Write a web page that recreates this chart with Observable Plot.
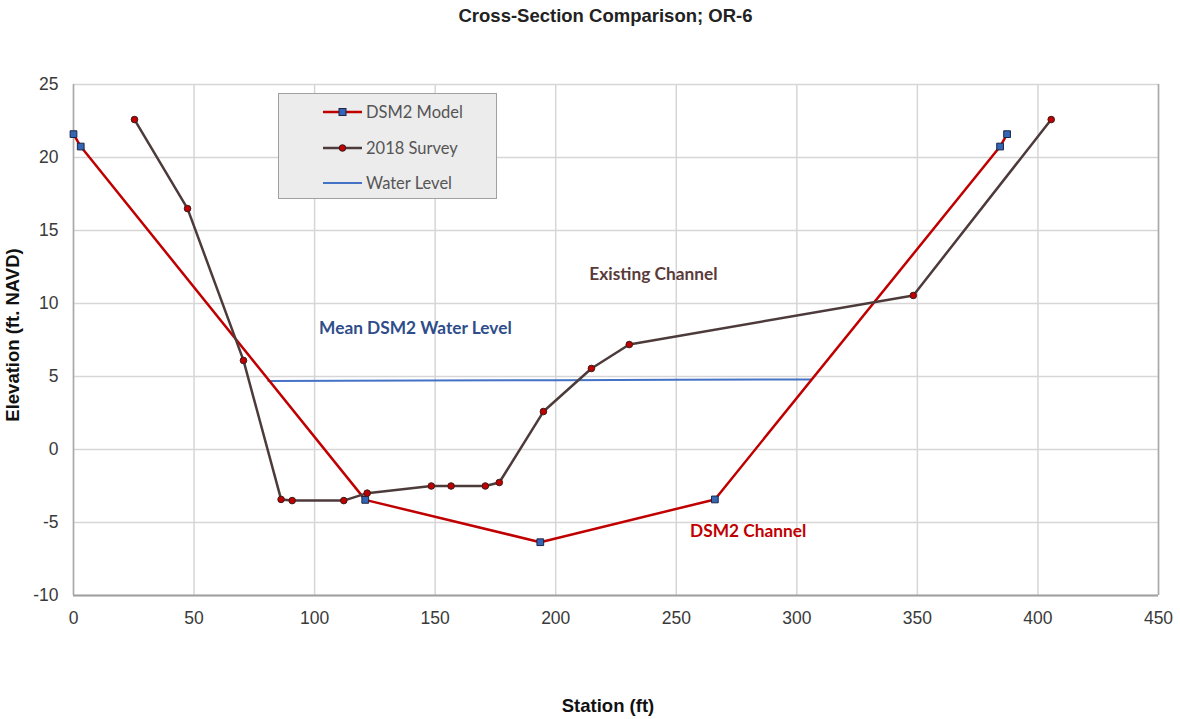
<!DOCTYPE html>
<html>
<head>
<meta charset="utf-8">
<script src="https://cdn.jsdelivr.net/npm/d3@7"></script>
<script src="https://cdn.jsdelivr.net/npm/@observablehq/plot@0.6"></script>
<style>
  html, body { margin: 0; padding: 0; background: #fff; }
  #wrap { position: relative; width: 1180px; height: 719px; overflow: hidden; }
  #chart { position: absolute; left: 0; top: 0; }
  .title { position: absolute; left: 0; width: 1180px; top: 5px; text-align: center; padding-left: 31px; box-sizing: border-box;
    font-family: "Liberation Sans", Arial, sans-serif; font-weight: bold; font-size: 18.5px; color: #222; }
  .xlabel { position: absolute; left: 508px; width: 200px; top: 695px; text-align: center;
    font-family: "Liberation Sans", Arial, sans-serif; font-weight: bold; font-size: 18.5px; color: #111; }
  .ylabel { position: absolute; left: 13px; top: 335px; transform: translate(-50%, -50%) rotate(-90deg);
    white-space: nowrap; font-family: "Liberation Sans", Arial, sans-serif; font-weight: bold; font-size: 18.5px; color: #111; }
  .legend { position: absolute; left: 278px; top: 93px; width: 219px; height: 106px; box-sizing: border-box;
    background: #ececec; border: 1.5px solid #a0a0a0; font-family: Lato, "Open Sans", sans-serif; font-size: 16.5px; color: #555; }
  .legend .row { position: absolute; left: 44px; height: 24px; display: flex; align-items: center; }
  .legend svg { margin-right: 3px; }
</style>
</head>
<body>
<div id="wrap">
  <div id="chart"></div>
  <div class="title">Cross-Section Comparison; OR-6</div>
  <div class="xlabel">Station (ft)</div>
  <div class="ylabel">Elevation (ft. NAVD)</div>
  <div class="legend" id="legend"></div>
</div>
<script>
// ---- data ----
const xTicks = [0, 50, 100, 150, 200, 250, 300, 350, 400, 450];
const yTicks = [-10, -5, 0, 5, 10, 15, 20, 25];

const dsm2Station   = [0, 3, 121, 193.6, 266, 384.3, 387.2];
const dsm2Elevation = [21.6, 20.75, -3.45, -6.35, -3.42, 20.75, 21.6];

const surveyStation   = [25.3, 47.3, 70.5, 86.1, 90.7, 112.1, 121.8, 148.4, 156.6, 170.8, 176.6, 194.9, 214.8, 230.5, 348.3, 405.5];
const surveyElevation = [22.6, 16.5, 6.1, -3.42, -3.5, -3.5, -2.99, -2.5, -2.5, -2.5, -2.26, 2.6, 5.55, 7.19, 10.55, 22.6];

const waterStation   = [80.8, 143, 200, 250, 306];
const waterElevation = [4.7, 4.72, 4.75, 4.78, 4.8];

const annoText  = ["Existing Channel", "Mean DSM2 Water Level", "DSM2 Channel"];
const annoX     = [240.5, 141.8, 279.8];
const annoY     = [12.0, 8.3, -5.6];
const annoColor = ["#5b3a3a", "#2f4d8a", "#c00000"];

const seriesNames = ["DSM2 Model", "2018 Survey", "Water Level"];

// ---- tables ----
const dsm2 = dsm2Station.map((x, i) => ({x, y: dsm2Elevation[i]}));
const survey = surveyStation.map((x, i) => ({x, y: surveyElevation[i]}));
const water = waterStation.map((x, i) => ({x, y: waterElevation[i]}));
const annos = annoText.map((t, i) => ({t, x: annoX[i], y: annoY[i], c: annoColor[i]}));

const RED = "#c00000", BROWN = "#4d3b3b", BLUE = "#4472c4";
const tickFont = "'Liberation Sans', Arial, sans-serif";

const chart = Plot.plot({
  width: 1180, height: 719,
  marginLeft: 73, marginRight: 22, marginTop: 84, marginBottom: 124,
  style: {fontFamily: tickFont, fontSize: "17.5px", color: "#333", background: "transparent"},
  x: {domain: [0, 450], label: null},
  y: {domain: [-10, 25], label: null},
  marks: [
    Plot.gridX(xTicks, {stroke: "#d6d6d6", strokeOpacity: 1, strokeWidth: 1.5}),
    Plot.gridY(yTicks, {stroke: "#d6d6d6", strokeOpacity: 1, strokeWidth: 1.5}),
    Plot.ruleX([0, 450], {stroke: "#a8a8a8", strokeWidth: 1.5}),
    Plot.ruleY([-10], {stroke: "#a0a0a0", strokeWidth: 2}),
    Plot.axisX(xTicks, {tickSize: 0, tickPadding: 16, fontSize: 17.5, fill: "#3a3a3a", label: null, tickFormat: d => String(d)}),
    Plot.axisY(yTicks, {tickSize: 0, tickPadding: 15, fontSize: 17.5, fill: "#3a3a3a", label: null, tickFormat: d => String(d)}),
    Plot.line(water, {x: "x", y: "y", stroke: BLUE, strokeWidth: 2}),
    Plot.line(dsm2, {x: "x", y: "y", stroke: RED, strokeWidth: 2.5}),
    Plot.line(survey, {x: "x", y: "y", stroke: BROWN, strokeWidth: 2.5}),
    Plot.dot(dsm2, {x: "x", y: "y", symbol: "square", r: 3.8, fill: "#3565b5", stroke: "#1b2745", strokeWidth: 1}),
    Plot.dot(survey, {x: "x", y: "y", r: 3.3, fill: "#c00000", stroke: "#3a1c1c", strokeWidth: 1}),
    Plot.text(annos, {x: "x", y: "y", text: "t", fill: "c", fontWeight: "bold", fontSize: 17.3, fontFamily: "Lato, 'Open Sans', sans-serif"})
  ]
});
document.getElementById("chart").appendChild(chart);

// ---- legend ----
const legend = document.getElementById("legend");
const rowTops = [6, 42, 77];
seriesNames.forEach((name, i) => {
  const row = document.createElement("div");
  row.className = "row";
  row.style.top = rowTops[i] + "px";
  let marker = "";
  let color = [RED, BROWN, BLUE][i];
  if (i === 0) marker = '<rect x="16" y="8.5" width="7" height="7" fill="#3565b5" stroke="#1b2745" stroke-width="1"/>';
  if (i === 1) marker = '<circle cx="19.5" cy="12" r="3.3" fill="#c00000" stroke="#3a1c1c" stroke-width="1"/>';
  row.innerHTML = `<svg width="40" height="24"><line x1="0" x2="39" y1="12" y2="12" stroke="${color}" stroke-width="${i === 2 ? 2 : 2.5}"/>${marker}</svg><span>${name}</span>`;
  legend.appendChild(row);
});
</script>
</body>
</html>
